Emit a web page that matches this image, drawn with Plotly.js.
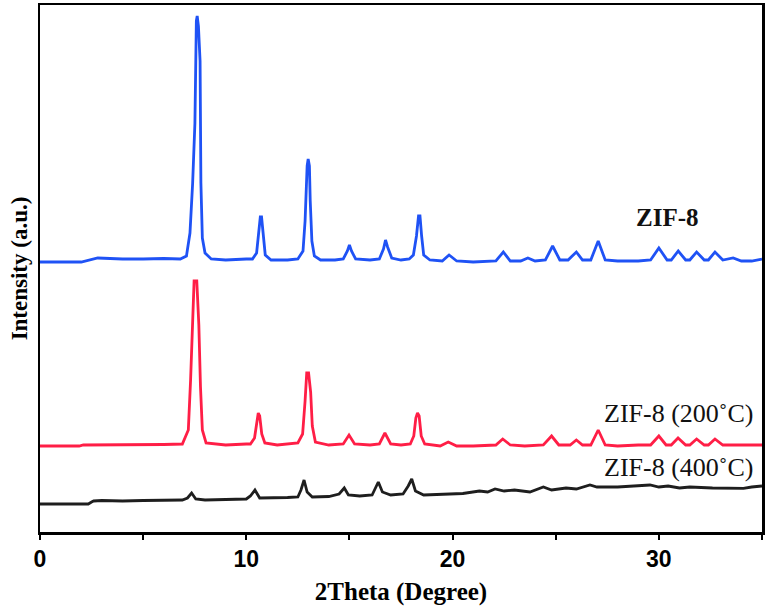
<!DOCTYPE html>
<html>
<head>
<meta charset="utf-8">
<script src="https://cdn.plot.ly/plotly-3.0.1.min.js"></script>
<style>html,body{margin:0;padding:0;background:#fff;}#chart{width:769px;height:608px;}</style>
</head>
<body>
<div id="chart"></div>
<script>
// 2Theta (deg), intensity above each trace's own baseline (a.u.)
const zif8 = [[0,-1],[2.0,-1],[2.8,3],[4.0,2],[5.0,2],[6.0,2.5],[6.8,2],[7.1,5],[7.27,28],[7.40,78],[7.51,138],[7.58,240],[7.62,245],[7.68,235],[7.76,200],[7.80,78],[7.87,23],[8.0,8],[8.3,2],[9.0,1],[10.0,2],[10.3,2],[10.5,8],[10.6,28],[10.68,44],[10.74,44],[10.82,28],[10.92,6],[11.2,1],[12.0,1],[12.5,2],[12.75,10],[12.85,40],[12.95,95],[13.0,102],[13.06,95],[13.1,60],[13.18,20],[13.3,5],[13.6,1],[14.3,1],[14.7,2],[14.9,10],[15.0,16],[15.1,10],[15.3,2],[16.0,1],[16.45,2],[16.65,12],[16.75,21],[16.85,14],[17.05,3],[17.5,1],[17.9,2],[18.1,6],[18.25,25],[18.35,45],[18.42,45],[18.5,25],[18.6,6],[18.9,1],[19.5,0],[19.83,6],[20.2,0],[21.0,-1],[22.1,0],[22.46,9],[22.8,0],[23.3,0],[23.65,3],[24.0,0],[24.5,1],[24.85,15],[25.2,1],[25.6,1],[26.0,9],[26.3,1],[26.7,1],[27.06,20],[27.4,1],[28.0,0],[29.0,0],[29.6,1],[30.0,13],[30.4,1],[30.6,1],[30.94,10],[31.3,1],[31.5,1],[31.83,9],[32.2,1],[32.4,1],[32.72,9],[33.1,1],[33.6,3],[34.0,0],[34.5,0],[35.0,2]];
const zif8_200 = [[0,0],[1.9,0],[2.1,1],[4.0,1],[6.0,1.5],[6.9,2],[7.19,16],[7.30,66],[7.38,121],[7.47,165],[7.60,165],[7.70,121],[7.78,59],[7.87,16],[8.05,3],[9.0,1],[10.0,2],[10.2,2],[10.4,8],[10.5,22],[10.58,33],[10.65,30],[10.75,12],[10.9,3],[11.5,1],[12.5,3],[12.73,12],[12.85,45],[12.93,73],[13.02,73],[13.12,54],[13.2,20],[13.35,4],[14.0,1],[14.7,2],[14.98,11],[15.25,2],[16.0,1],[16.45,2],[16.72,13],[17.0,2],[17.5,1],[17.95,2],[18.12,10],[18.22,28],[18.3,33],[18.38,30],[18.48,10],[18.65,2],[19.4,0],[19.79,4],[20.2,0],[21.0,0],[22.1,1],[22.43,7],[22.8,1],[23.5,0],[24.4,1],[24.8,10],[25.15,1],[25.7,1],[26.0,6],[26.3,1],[26.7,1],[27.06,16],[27.4,1],[28.0,0],[29.0,1],[29.6,1],[30.0,10],[30.35,1],[30.6,1],[30.93,8],[31.3,1],[31.5,1],[31.83,7],[32.2,1],[32.4,1],[32.72,7],[33.1,1],[34.0,1],[35.0,1]];
const zif8_400 = [[0,0],[2.34,0],[2.5,2],[2.6,3],[3.0,3.5],[4.0,3],[5.0,3.5],[6.0,3.5],[6.9,4],[7.15,6],[7.35,11],[7.55,5],[8.0,4],[9.0,4.5],[10.0,5],[10.2,8],[10.42,14],[10.65,6],[11.0,6],[12.0,6.5],[12.5,7],[12.65,14],[12.8,24],[12.95,12],[13.2,7],[14.0,7.5],[14.5,10],[14.75,16],[14.95,9],[15.5,8],[16.1,9],[16.25,16],[16.4,22],[16.6,12],[17.0,9],[17.6,10],[17.85,18],[18.02,25],[18.2,13],[18.6,9],[19.5,9.5],[20.5,10.5],[21.3,13],[21.7,12],[22.06,15],[22.5,13],[23.0,14],[23.75,12],[24.4,17],[24.8,14],[25.5,16],[26.0,15],[26.66,19],[27.0,17],[28.0,17],[29.0,18],[29.57,19],[30.0,17],[30.45,18],[31.0,16],[31.5,17],[32.6,16],[33.5,16],[34.1,15.7],[34.5,17],[35.0,18]];

const seriesNames = ['ZIF-8', 'ZIF-8 (200˚C)', 'ZIF-8 (400˚C)'];
const offsets = [271, 86, 28];
const colors = ['#1f52f5', '#ff1e46', '#1e1e1e'];
const xTickVals = [0, 5, 10, 15, 20, 25, 30, 35];
const xTickText = ['0', '', '10', '', '20', '', '30', ''];

const all = [zif8, zif8_200, zif8_400];
const traces = all.map((s, i) => ({
  x: s.map(p => p[0]),
  y: s.map(p => p[1] + offsets[i]),
  type: 'scatter', mode: 'lines', name: seriesNames[i],
  line: {color: colors[i], width: 2.8},
  hoverinfo: 'x+y'
}));

const labelFont = {family: 'Liberation Serif, Times New Roman, serif', size: 26, color: '#111'};
const layout = {
  width: 769, height: 608,
  margin: {l: 40, r: 7, t: 5, b: 76},
  paper_bgcolor: '#fff', plot_bgcolor: '#fff',
  showlegend: false,
  xaxis: {
    range: [0, 35], tickvals: xTickVals, ticktext: xTickText,
    ticks: 'outside', ticklen: 5, tickwidth: 2, tickcolor: '#000',
    showline: true, mirror: true, linewidth: 2.5, linecolor: '#000',
    showgrid: false, zeroline: false,
    tickfont: {family: 'Liberation Sans, Arial, sans-serif', size: 23, color: '#000', weight: 'bold'},
    title: {text: '2Theta (Degree)', standoff: 12,
      font: {family: 'Liberation Serif, Times New Roman, serif', size: 25, color: '#000', weight: 'bold'}}
  },
  yaxis: {
    range: [0, 527], showticklabels: false, ticks: '',
    showline: true, mirror: true, linewidth: 2.5, linecolor: '#000',
    showgrid: false, zeroline: false,
    title: {text: 'Intensity (a.u.)', standoff: 4,
      font: {family: 'Liberation Serif, Times New Roman, serif', size: 23, color: '#000', weight: 'bold'}}
  },
  annotations: [
    {x: 30.4, y: 315, xref: 'x', yref: 'y', text: seriesNames[0], showarrow: false, xanchor: 'center', yanchor: 'middle', font: Object.assign({}, labelFont, {size: 25, weight: 'bold'})},
    {x: 34.66, y: 119, xref: 'x', yref: 'y', text: seriesNames[1], showarrow: false, xanchor: 'right', yanchor: 'middle', font: labelFont},
    {x: 34.66, y: 65, xref: 'x', yref: 'y', text: seriesNames[2], showarrow: false, xanchor: 'right', yanchor: 'middle', font: labelFont}
  ]
};

Plotly.newPlot('chart', traces, layout, {displayModeBar: false, staticPlot: true});
</script>
</body>
</html>
